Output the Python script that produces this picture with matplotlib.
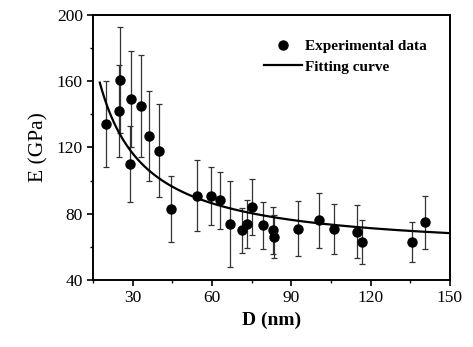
import numpy as np
import matplotlib
matplotlib.use('Agg')
import matplotlib.pyplot as plt
from matplotlib.ticker import MultipleLocator

plt.rcParams['font.family'] = ['Liberation Serif', 'DejaVu Serif']

D = [19.9, 24.6, 25.3, 29.0, 29.2, 33.1, 36.2, 39.9, 44.4, 54.2, 59.5, 63.0, 66.8,
     71.4, 73.3, 75.0, 79.1, 83.1, 83.5, 92.6, 100.3, 106.3, 114.7, 116.7, 135.8, 140.7]
E = [134, 142, 161, 110, 149, 145, 127, 118, 83, 91, 91, 88, 74,
     70, 74, 84, 73, 70, 66, 71, 76, 71, 69, 63, 63, 75]
err = [26, 28, 32, 23, 29, 31, 27, 28, 20, 21.5, 17.5, 17, 26,
       13.6, 14.5, 17, 14, 14, 13, 16.5, 16.8, 15, 16, 13.3, 12.3, 16]

# fitting curve E = E0 + A / D
E0 = 56.3
A = 1800.0
D_fit = np.linspace(17.5, 150, 300)
E_fit = E0 + A / D_fit

fig = plt.figure(figsize=(4.73, 3.47), dpi=100)
ax = fig.add_axes([0.197, 0.193, 0.754, 0.764])

ax.errorbar(D, E, yerr=err, fmt='none', ecolor='#333333', elinewidth=0.9,
            capsize=2.5, capthick=0.9, zorder=2)
ax.plot(D, E, 'o', color='black', markersize=6.5, linestyle='none',
        label='Experimental data', zorder=3)
ax.plot(D_fit, E_fit, '-', color='black', linewidth=1.6, label='Fitting curve', zorder=4)

ax.set_xlim(15, 150)
ax.set_ylim(40, 200)
ax.xaxis.set_major_locator(MultipleLocator(30))
ax.xaxis.set_minor_locator(MultipleLocator(15))
ax.yaxis.set_major_locator(MultipleLocator(40))
ax.yaxis.set_minor_locator(MultipleLocator(20))
ax.tick_params(which='major', direction='out', length=4, width=1.2, labelsize=12.5)
ax.tick_params(which='minor', direction='out', length=2.5, width=1.0)
for s in ax.spines.values():
    s.set_linewidth(1.4)

ax.set_xlabel('D (nm)', fontsize=14, fontweight='bold', labelpad=4)
ax.set_ylabel('E (GPa)', fontsize=15.5, labelpad=6)

leg = ax.legend(loc='upper right', bbox_to_anchor=(0.975, 0.96), frameon=False,
                prop={'weight': 'bold', 'size': 11}, handlelength=2.5,
                handletextpad=0.2, labelspacing=0.45)

plt.savefig('out.png', dpi=100)
